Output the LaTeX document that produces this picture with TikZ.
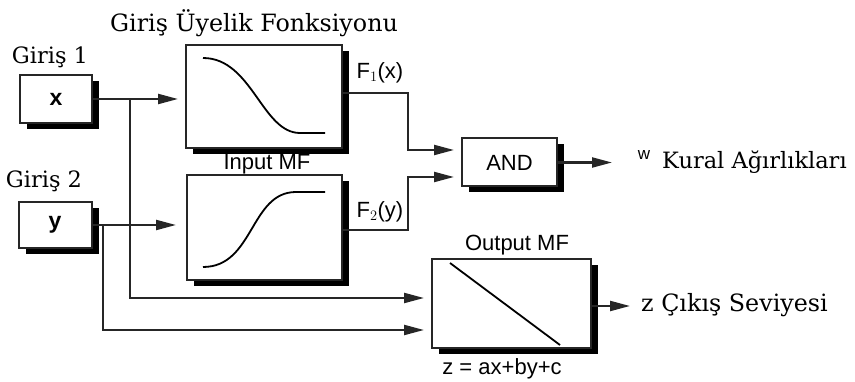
\documentclass[tikz,border=0pt]{standalone}
\usepackage{fontspec}
\setmainfont{DejaVu Serif}
\setsansfont{Liberation Sans}
\usetikzlibrary{arrows.meta,shadows,calc}
\begin{document}
\begin{tikzpicture}[x=1pt,y=-1pt,
  box/.style={draw=black!85, line width=2pt, fill=white, inner sep=0pt,
    general shadow={fill=black, shadow xshift=7pt, shadow yshift=-6pt}},
  conn/.style={draw=black!85, line width=2.2pt},
  arr/.style={conn, -{Triangle[length=20pt,width=10pt]}, shorten >=7pt},
  serif/.style={font=\fontsize{22.5}{26}\selectfont, inner sep=0pt},
  sans/.style={font=\sffamily\fontsize{22}{25}\selectfont, inner sep=0pt},
  curve/.style={line width=1.8pt, black}
]
\useasboundingbox (0,0) rectangle (855,382);

% boxes
\node[box, minimum width=72pt, minimum height=48pt] (xbox) at (56,99) {};
\node[box, minimum width=73pt, minimum height=46pt] (ybox) at (55,225) {};
\node[box, minimum width=156pt, minimum height=103pt] (mf1) at (264,96.5) {};
\node[box, minimum width=155pt, minimum height=105pt] (mf2) at (264.5,227.5) {};
\node[box, minimum width=95pt, minimum height=48pt] (and) at (509.5,162.5) {};
\node[box, minimum width=159pt, minimum height=89pt] (out) at (511.5,303.5) {};

% box contents
\node[font=\sffamily\bfseries\fontsize{23}{26}\selectfont, inner sep=0pt] (xl) at (xbox) {x};
\node[font=\sffamily\bfseries\fontsize{23}{26}\selectfont, inner sep=0pt] (yl) at (ybox) {y};
\node[sans] (andl) at (and) {AND};
\draw[curve] (203,58) .. controls (252,58) and (262,133) .. (300,133) -- (325,133);
\draw[curve] (203,267) .. controls (254,267) and (250,192) .. (296,192) -- (325,192);
\draw[curve] (450,263) -- (560,345);

% labels
\node[serif, font=\fontsize{23.8}{27}\selectfont] (title) at (254,23) {Giriş Üyelik Fonksiyonu};
\node[serif] (g1) at (50,57) {Giriş 1};
\node[serif] (g2) at (44,181) {Giriş 2};
\node[sans] (f1) at (380,73) {F$_1$(x)};
\node[sans] (f2) at (380,212) {F$_2$(y)};
\node[sans] (inmf) at (267,164) {Input MF};
\node[sans] (outmf) at (517,245) {Output MF};
\node[sans] (eq) at (502,369) {z = ax+by+c};
\node[font=\sffamily\fontsize{17}{19}\selectfont, inner sep=0pt] (w) at (644,155) {w};
\node[serif, anchor=west] (kural) at (662,162) {Kural Ağırlıkları};
\node[serif, font=\fontsize{23.8}{27}\selectfont, anchor=west] (cikis) at (641,305) {z Çıkış Seviyesi};

% junction coordinates
\coordinate (bx) at (130,99);
\coordinate (by) at (103,225);
\coordinate (jx) at (408,163);
\coordinate (f1o) at ([yshift=3.5pt]mf1.east);
\coordinate (f2o) at ([yshift=-2.5pt]mf2.east);
\coordinate (and1) at ([yshift=12.5pt]and.west);
\coordinate (and2) at ([yshift=-14.5pt]and.west);
\coordinate (out1) at ([yshift=5.5pt]out.west);
\coordinate (out2) at ([yshift=-26.5pt]out.west);
\coordinate (wend) at (619,162.5);
\coordinate (zend) at (637,306);

% connectors
\draw[arr] (xbox.east) -- (xbox.east -| mf1.west);
\draw[arr, shorten >=10pt] (ybox.east) -- (ybox.east -| mf2.west);
\draw[arr] (bx) |- (out1);
\draw[arr] (by) |- (out2);
\draw[arr] (f1o) -- (f1o -| jx) |- (and1);
\draw[arr] (f2o) -- (f2o -| jx) |- (and2);
\draw[arr] (and.east) -- (wend);
\draw[arr] ([yshift=-2.5pt]out.east) -- (zend);
\end{tikzpicture}
\end{document}
